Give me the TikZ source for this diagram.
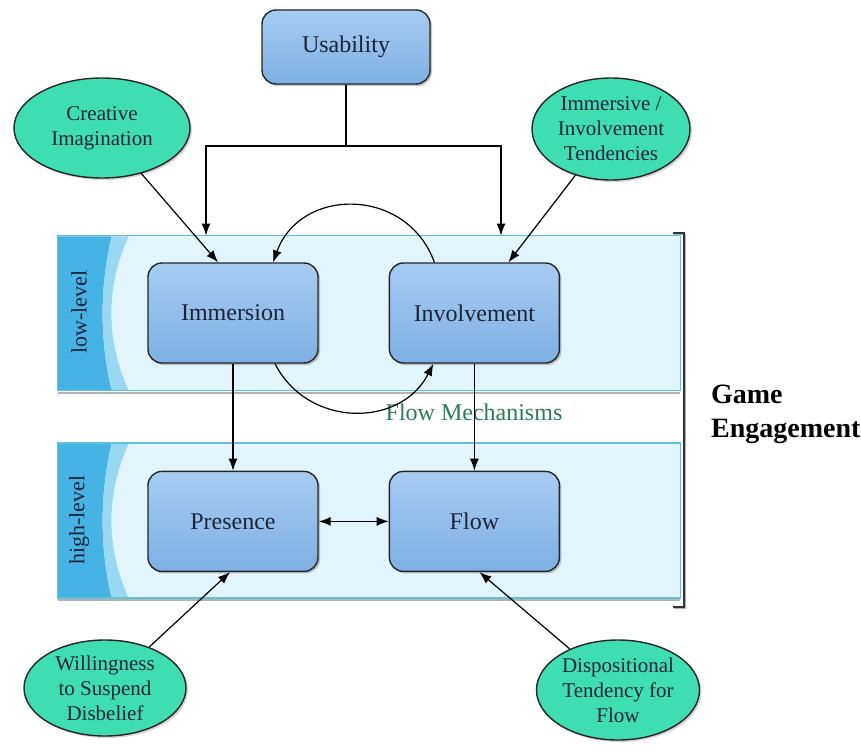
\documentclass[tikz,border=0pt]{standalone}
\usepackage{fontspec}
\setmainfont{Liberation Serif}
\usepackage{xcolor}
\usepackage{tikz}
\usetikzlibrary{arrows.meta,positioning,calc,shapes.geometric,shadows}
\definecolor{boxtop}{HTML}{A6CCF2}
\definecolor{boxbot}{HTML}{7EB0E4}
\definecolor{mint}{HTML}{3FDDB2}
\definecolor{bandfill}{HTML}{E2F4FC}
\definecolor{bandline}{HTML}{5EC3DA}
\definecolor{stripdark}{HTML}{45B4E5}
\definecolor{striplight}{HTML}{98D8F3}
\definecolor{mechgreen}{HTML}{2B7A58}
\definecolor{inktext}{HTML}{1B2438}

\begin{document}
\begin{tikzpicture}[x=0.5pt,y=0.5pt,
    box/.style={draw=black!85,line width=0.7pt,rounded corners=7pt,
      top color=boxtop,bottom color=boxbot,text=inktext,
      minimum width=85pt,minimum height=50pt,font=\fontsize{12}{14}\selectfont,
      drop shadow={shadow xshift=1pt,shadow yshift=-1pt,opacity=0.45}},
    oval/.style={ellipse,draw=black!85,line width=0.7pt,fill=mint,inner sep=0pt,
      align=center,text=inktext,font=\fontsize{10.5}{12.5}\selectfont,
      drop shadow={shadow xshift=1pt,shadow yshift=-1pt,opacity=0.35}},
    band/.style={fill=bandfill,minimum width=311pt,minimum height=77pt,inner sep=0pt},
    lvl/.style={rotate=90,text=inktext,font=\fontsize{11}{13}\selectfont},
    arr/.style={-{Latex[length=6pt,width=4.5pt]},line width=0.6pt},
    dbl/.style={{Latex[length=6pt,width=4.5pt]}-{Latex[length=6pt,width=4.5pt]},line width=0.6pt}]
  \useasboundingbox (0,0) rectangle (861,751);

  \node[band] (low) at (369,438) {};
  \node[band] (high) at (369,230.5) {};
  \foreach \b in {low,high}{
    \begin{scope}[shift={(\b.south west)}]
      \fill[stripdark] (0,0) -- (0,154) -- (54,154)
        .. controls (42,103) and (42,51) .. (54,0) -- cycle;
      \fill[striplight] (54,154) -- (71,154)
        .. controls (48,103) and (48,51) .. (71,0) -- (54,0)
        .. controls (42,51) and (42,103) .. (54,154) -- cycle;
    \end{scope}
    \draw[black!30,line width=1pt] ([yshift=-1.2pt]\b.south west) -- ([yshift=-1.2pt]\b.south east);
    \draw[bandline,line width=0.8pt] (\b.south west) rectangle (\b.north east);
  }
  \node[lvl] (lowlbl) at (79,439) {low-level};
  \node[lvl] (highlbl) at (79,231) {high-level};

  \node[box] (imm) at (233,438) {Immersion};
  \node[box,right=35pt of imm] (inv) {Involvement};
  \node[box,below=53.5pt of imm] (pres) {Presence};
  \node[box,right=35pt of pres] (flow) {Flow};
  \node[box,minimum width=84pt,minimum height=37pt] (use) at (346,704) {Usability};

  \node[oval,minimum width=88pt,minimum height=50pt] (cre) at (102,623)
    {Creative\\Imagination};
  \node[oval,minimum width=79pt,minimum height=51pt] (tend) at (611,622)
    {Immersive /\\Involvement\\Tendencies};
  \node[oval,minimum width=81pt,minimum height=48pt] (will) at (105,63)
    {Willingness\\to Suspend\\Disbelief};
  \node[oval,minimum width=81.5pt,minimum height=50pt] (disp) at (618,61)
    {Dispositional\\Tendency for\\Flow};

  \node[text=mechgreen,font=\fontsize{12}{14}\selectfont] (mech) at (474,339)
    {Flow Mechanisms};
  \node[anchor=west,align=left,font=\bfseries\fontsize{14}{17}\selectfont]
    (game) at (704,337) {Game\\Engagement};

  \coordinate (forkL) at (206,605);
  \coordinate (forkR) at (501,605);
  \draw[arr] (use.south) |- (forkL) -- (forkL |- low.north);
  \draw[arr] (use.south |- forkR) -- (forkR) -- (forkR |- low.north);
  \draw[arr] (cre) -- ([xshift=-7.5pt]imm.north);
  \draw[arr] (tend) -- ([xshift=17pt]inv.north);
  \draw[arr] ([xshift=-20pt]inv.north) to[out=110,in=70,looseness=1.28]
    ([xshift=20pt]imm.north);
  \draw[arr] ([xshift=21pt]imm.south) to[out=-63,in=-117,looseness=1.17]
    ([xshift=-20.5pt]inv.south);
  \draw[arr] (imm) -- (pres);
  \draw[arr] (inv) -- (flow);
  \draw[dbl] (pres) -- (flow);
  \draw[arr] (will) -- ([xshift=-1.5pt]pres.south);
  \draw[arr] (disp) -- ([xshift=2.5pt]flow.south);

  \draw[gray!60,line width=0.8pt] (674,516.5) -| (685.5,142.5) -- (674,142.5);
  \draw[black!80,line width=0.8pt] (673,518) -| (684,144) -- (673,144);
\end{tikzpicture}
\end{document}
